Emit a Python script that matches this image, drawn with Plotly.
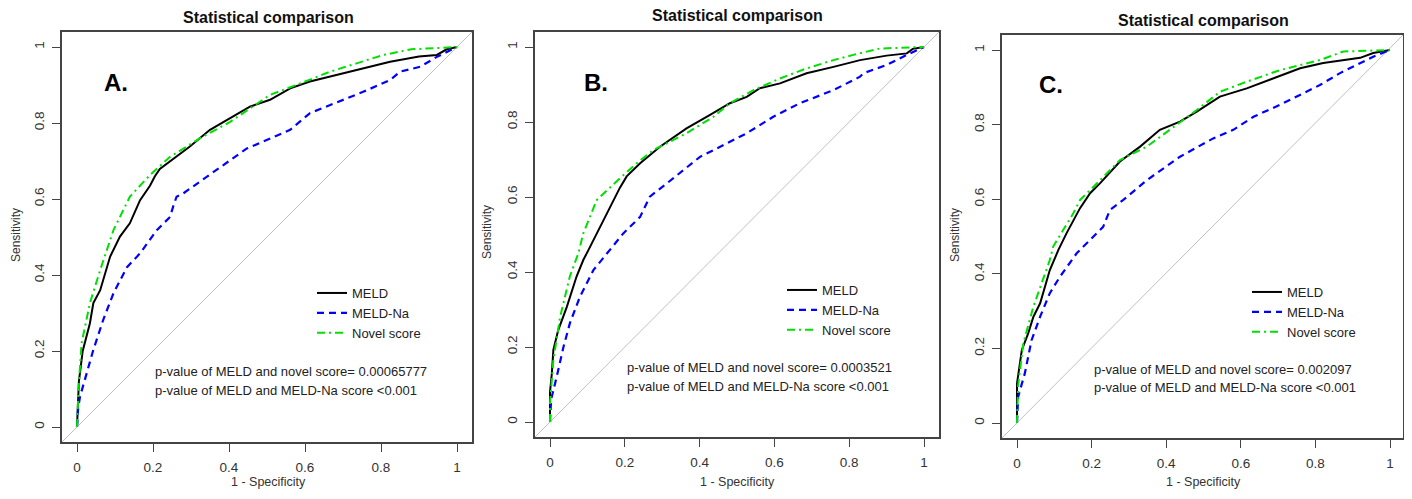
import plotly.graph_objects as go

# ---------------- data ----------------
series_names = ["MELD", "MELD-Na", "Novel score"]
panel_labels = ["A.", "B.", "C."]
plot_title = "Statistical comparison"
x_title = "1 - Specificity"
y_title = "Sensitivity"
tick_vals = [0, 0.2, 0.4, 0.6, 0.8, 1]
tick_text = ["0", "0.2", "0.4", "0.6", "0.8", "1"]
p_novel = ["0.00065777", "0.0003521", "0.002097"]
p_na = ["<0.001", "<0.001", "<0.001"]

A_meld_fpr = [0, 0.005, 0.015, 0.034, 0.043, 0.061, 0.087, 0.113, 0.139, 0.166, 0.192, 0.205, 0.218, 0.297, 0.35, 0.403, 0.455, 0.508, 0.561, 0.613, 0.683, 0.753, 0.824, 0.9, 0.947, 0.973, 1.0]
A_meld_tpr = [0, 0.12, 0.2, 0.273, 0.326, 0.36, 0.448, 0.501, 0.536, 0.597, 0.635, 0.66, 0.679, 0.738, 0.782, 0.812, 0.843, 0.861, 0.891, 0.909, 0.926, 0.944, 0.961, 0.975, 0.979, 0.994, 1.0]
A_na_fpr = [0, 0.003, 0.008, 0.025, 0.043, 0.069, 0.096, 0.131, 0.166, 0.21, 0.245, 0.253, 0.262, 0.28, 0.368, 0.447, 0.499, 0.561, 0.613, 0.666, 0.753, 0.824, 0.85, 0.903, 0.947, 1.0]
A_na_tpr = [0, 0.05, 0.08, 0.141, 0.203, 0.282, 0.352, 0.42, 0.457, 0.518, 0.553, 0.58, 0.606, 0.615, 0.676, 0.733, 0.755, 0.782, 0.826, 0.847, 0.882, 0.913, 0.935, 0.948, 0.974, 1.0]
A_novel_fpr = [0, 0.004, 0.012, 0.034, 0.061, 0.096, 0.139, 0.192, 0.245, 0.324, 0.403, 0.455, 0.508, 0.587, 0.666, 0.736, 0.806, 0.88, 1.0]
A_novel_tpr = [0, 0.1, 0.22, 0.326, 0.413, 0.518, 0.606, 0.663, 0.711, 0.76, 0.803, 0.839, 0.874, 0.904, 0.935, 0.957, 0.979, 0.994, 1.0]

B_meld_fpr = [0, 0.0, 0.005, 0.009, 0.022, 0.045, 0.071, 0.089, 0.103, 0.134, 0.16, 0.187, 0.205, 0.241, 0.294, 0.365, 0.428, 0.481, 0.526, 0.561, 0.615, 0.686, 0.758, 0.829, 0.9, 0.954, 0.97, 1.0]
B_meld_tpr = [0, 0.08, 0.13, 0.192, 0.245, 0.307, 0.388, 0.432, 0.459, 0.521, 0.574, 0.625, 0.655, 0.69, 0.734, 0.783, 0.819, 0.85, 0.867, 0.89, 0.903, 0.93, 0.947, 0.965, 0.977, 0.983, 0.995, 1.0]
B_na_fpr = [0, 0.003, 0.018, 0.036, 0.053, 0.08, 0.116, 0.16, 0.196, 0.241, 0.259, 0.267, 0.312, 0.401, 0.455, 0.526, 0.597, 0.668, 0.758, 0.829, 0.838, 0.9, 0.954, 1.0]
B_na_tpr = [0, 0.06, 0.121, 0.2, 0.263, 0.334, 0.405, 0.459, 0.503, 0.547, 0.583, 0.601, 0.636, 0.707, 0.734, 0.77, 0.814, 0.85, 0.885, 0.921, 0.93, 0.952, 0.979, 1.0]
B_novel_fpr = [0, 0.0, 0.009, 0.027, 0.053, 0.076, 0.089, 0.125, 0.187, 0.232, 0.276, 0.365, 0.437, 0.481, 0.544, 0.615, 0.686, 0.758, 0.811, 0.882, 1.0]
B_novel_tpr = [0, 0.05, 0.165, 0.28, 0.388, 0.45, 0.503, 0.592, 0.65, 0.69, 0.725, 0.77, 0.814, 0.85, 0.885, 0.916, 0.943, 0.965, 0.979, 0.996, 1.0]

C_meld_fpr = [0, 0.0, 0.013, 0.03, 0.044, 0.062, 0.088, 0.111, 0.133, 0.169, 0.196, 0.223, 0.276, 0.33, 0.383, 0.437, 0.482, 0.544, 0.616, 0.687, 0.759, 0.821, 0.92, 0.955, 1.0]
C_meld_tpr = [0, 0.106, 0.196, 0.24, 0.285, 0.321, 0.41, 0.464, 0.509, 0.576, 0.616, 0.643, 0.701, 0.741, 0.786, 0.808, 0.835, 0.875, 0.897, 0.924, 0.951, 0.965, 0.979, 0.992, 1.0]
C_na_fpr = [0, 0.003, 0.021, 0.039, 0.062, 0.088, 0.115, 0.16, 0.178, 0.231, 0.249, 0.285, 0.348, 0.437, 0.526, 0.58, 0.634, 0.705, 0.812, 0.866, 0.955, 1.0]
C_na_tpr = [0, 0.07, 0.133, 0.222, 0.285, 0.348, 0.392, 0.455, 0.473, 0.526, 0.571, 0.598, 0.651, 0.714, 0.763, 0.786, 0.821, 0.853, 0.906, 0.938, 0.982, 1.0]
C_novel_fpr = [0, 0.003, 0.017, 0.044, 0.088, 0.097, 0.151, 0.169, 0.223, 0.276, 0.348, 0.41, 0.482, 0.544, 0.616, 0.705, 0.812, 0.875, 1.0]
C_novel_tpr = [0, 0.1, 0.214, 0.312, 0.437, 0.473, 0.562, 0.598, 0.651, 0.705, 0.741, 0.786, 0.839, 0.888, 0.915, 0.946, 0.973, 0.996, 1.0]

panels = [
    [(A_meld_fpr, A_meld_tpr), (A_na_fpr, A_na_tpr), (A_novel_fpr, A_novel_tpr)],
    [(B_meld_fpr, B_meld_tpr), (B_na_fpr, B_na_tpr), (B_novel_fpr, B_novel_tpr)],
    [(C_meld_fpr, C_meld_tpr), (C_na_fpr, C_na_tpr), (C_novel_fpr, C_novel_tpr)],
]

# ---------------- layout geometry (page pixels) ----------------
PAGE_W, PAGE_H = 1412, 499
OFF = 8                      # default body margin of the html page
W, H = PAGE_W - 2 * OFF, PAGE_H - 2 * OFF
# plot box: left, right, top, bottom ; tick positions of 0 and 1 on x and y
boxes = [(62, 472, 32, 442), (535, 939, 32, 437), (1002, 1403, 35, 438)]
xticks_px = [(77, 457), (550, 924), (1017, 1390)]
yticks_px = [(427, 47), (422, 47), (423, 50)]
title_pos = [(268, 17), (737, 16), (1203, 20)]
label_pos = [(116, 83), (596, 82), (1051, 84)]
xtitle_x = [268, 738, 1203]
ytitle_pos = [(16, 235), (487, 232), (955, 235)]
legend_pos = [(312, 278), (782, 275), (1247, 277)]
pval_pos = [(153, 371.7, 390.7), (625, 367.3, 386.7), (1092, 369, 387.3)]

styles = [
    dict(color="#000000", width=2, dash="solid"),
    dict(color="#0000FF", width=2.2, dash="7px,5px"),
    dict(color="#00E000", width=2, dash="8px,4px,2px,4px"),
]

FONT = "Liberation Sans, Arial, sans-serif"

def px(x):
    return (x - OFF) / W

def py(y):
    return 1 - (y - OFF) / H

fig = go.Figure()
layout = dict(
    width=W, height=H, margin=dict(l=0, r=0, t=0, b=0),
    paper_bgcolor="white", plot_bgcolor="white",
    font=dict(family=FONT, size=12, color="#222"),
)
annotations = []
shapes = []

for i, (curves, box) in enumerate(zip(panels, boxes)):
    n = "" if i == 0 else str(i + 1)
    xa, ya = "x" + n, "y" + n
    leg = "legend" + n
    for name, (fpr, tpr), st in zip(series_names, curves, styles):
        fig.add_trace(go.Scatter(
            x=fpr, y=tpr, mode="lines", name=name, line=st,
            xaxis=xa, yaxis=ya, legend=leg, showlegend=True,
        ))
    l, r, t, b = box
    x0, x1 = xticks_px[i]
    y0, y1 = yticks_px[i]
    xr = [(l - x0) / (x1 - x0), (r - x0) / (x1 - x0)]
    yr = [(b - y0) / (y1 - y0), (t - y0) / (y1 - y0)]
    axis_common = dict(
        showgrid=False, zeroline=False,
        showline=True, mirror=True, linecolor="#444", linewidth=1.5,
        ticks="outside", ticklen=8, tickcolor="#444", tickwidth=1.2,
        tickvals=tick_vals, ticktext=tick_text,
        tickfont=dict(family=FONT, size=13.5, color="#333"),
        fixedrange=True,
    )
    layout["xaxis" + n] = dict(axis_common, range=xr, domain=[px(l), px(r)], anchor=ya,
                               ticklabelstandoff=4)
    layout["yaxis" + n] = dict(axis_common, range=yr, domain=[py(b), py(t)], anchor=xa,
                               tickangle=-90, ticklabelstandoff=3)
    lx, ly = legend_pos[i]
    layout[leg] = dict(x=px(lx), y=py(ly), xanchor="left", yanchor="top",
                       bgcolor="rgba(0,0,0,0)", font=dict(family=FONT, size=13, color="#222"),
                       tracegroupgap=0, itemwidth=30)
    # diagonal reference line (abline) across the whole plot region
    shapes.append(dict(type="line", xref=xa + " domain", yref=ya + " domain",
                       x0=0, y0=0, x1=1, y1=1, line=dict(color="#C0C0C0", width=1), layer="below"))
    tx, ty = title_pos[i]
    annotations.append(dict(text="<b>" + plot_title + "</b>", x=px(tx), y=py(ty), xref="paper", yref="paper",
                            showarrow=False, xanchor="center", yanchor="middle",
                            font=dict(family=FONT, size=16, color="#111")))
    qx, qy = label_pos[i]
    annotations.append(dict(text="<b>" + panel_labels[i] + "</b>", x=px(qx), y=py(qy), xref="paper", yref="paper",
                            showarrow=False, xanchor="center", yanchor="middle",
                            font=dict(family=FONT, size=24, color="#000")))
    annotations.append(dict(text=x_title, x=px(xtitle_x[i]), y=0, xref="paper", yref="paper",
                            showarrow=False, xanchor="center", yanchor="bottom",
                            font=dict(family=FONT, size=12.5, color="#333")))
    ytx, yty = ytitle_pos[i]
    annotations.append(dict(text=y_title, x=px(ytx), y=py(yty), xref="paper", yref="paper",
                            showarrow=False, xanchor="center", yanchor="middle", textangle=-90,
                            font=dict(family=FONT, size=12, color="#333")))
    pvx, pv1, pv2 = pval_pos[i]
    annotations.append(dict(text="p-value of MELD and novel score= " + p_novel[i], x=px(pvx), y=py(pv1),
                            xref="paper", yref="paper", showarrow=False, xanchor="left", yanchor="middle",
                            font=dict(family=FONT, size=13, color="#222")))
    annotations.append(dict(text="p-value of MELD and MELD-Na score " + p_na[i], x=px(pvx), y=py(pv2),
                            xref="paper", yref="paper", showarrow=False, xanchor="left", yanchor="middle",
                            font=dict(family=FONT, size=13, color="#222")))

layout["annotations"] = annotations
layout["shapes"] = shapes
fig.update_layout(**layout)
fig.write_html("out.html")
